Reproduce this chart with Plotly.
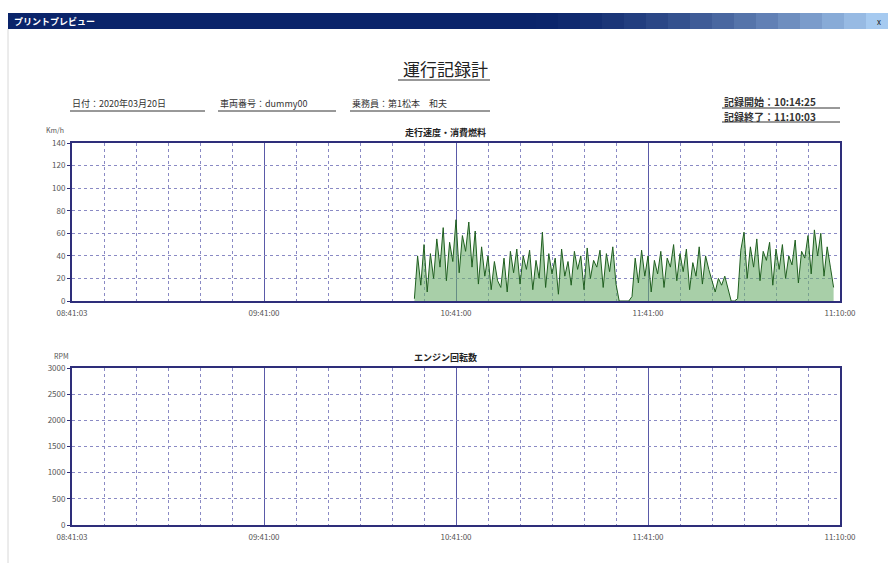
import plotly.graph_objects as go

# ---------------- data ----------------
page_title = "運行記録計"
window_title = "プリントプレビュー"
info_items = ["日付：2020年03月20日", "車両番号：dummy00", "乗務員：第1松本　和夫"]
record_start = "記録開始：10:14:25"
record_end = "記録終了：11:10:03"
chart1_title = "走行速度・消費燃料"
chart2_title = "エンジン回転数"
speed_unit = "Km/h"
rpm_unit = "RPM"
time_tick_pos = [0, 6, 12, 18, 24]
time_tick_labels = ["08:41:03", "09:41:00", "10:41:00", "11:41:00", "11:10:00"]
speed_ticks = [0, 20, 40, 60, 80, 100, 120, 140]
rpm_ticks = [0, 500, 1000, 1500, 2000, 2500, 3000]

speed_start = 10.7   # time units (10 min each) where samples start
speed_step = 0.1
speed = [
    2, 40, 14,
    50, 8, 42, 20, 55, 30, 65, 18, 52, 35,
    72, 25, 58, 44, 70, 30, 62, 15, 48, 22,
    40, 10, 35, 18, 12, 38, 8, 44, 25, 46,
    15, 40, 28, 45, 10, 36, 20, 61, 12, 42,
    24, 38, 6, 46, 22, 35, 14, 44, 28, 40,
    10, 47, 20, 36, 30, 45, 12, 42, 26, 48,
    15, 0, 0, 0, 0, 4, 38, 16, 45, 22,
    40, 8, 36, 24, 44, 12, 38, 30, 50, 18,
    42, 26, 46, 10, 34, 22, 48, 15, 40, 28,
    18, 8, 20, 14, 22, 10, 0, 0, 2, 45,
    61, 20, 48, 30, 55, 18, 44, 36, 52, 14,
    46, 28, 50, 20, 40, 32, 54, 16, 44, 38,
    58, 24, 63, 40, 60, 22, 48, 30, 12,
]
speed_time = [speed_start + i * speed_step for i in range(len(speed))]

# ---------------- layout helpers ----------------
W, H = 888, 563
def px(x): return x / W
def py(y): return 1 - y / H

FRAME = "#2e2e7a"
GRID = "#8a8ac4"
MAJOR = "#5a5aa8"
TXT = "#333333"
FONT = "Noto Sans CJK JP"

fig = go.Figure()

fig.add_trace(go.Scatter(
    x=speed_time, y=speed, mode="lines",
    line=dict(color="#1f5f1f", width=1),
    fill="tozeroy", fillcolor="rgba(110,175,110,0.6)",
    xaxis="x", yaxis="y", hoverinfo="skip", showlegend=False,
))
fig.add_trace(go.Scatter(
    x=[None], y=[None], mode="lines", xaxis="x2", yaxis="y2",
    showlegend=False, hoverinfo="skip",
))

xdom = [px(72), px(840)]
def xaxis_cfg():
    return dict(
        domain=xdom, range=[0, 24], tickmode="array",
        tickvals=time_tick_pos, ticktext=time_tick_labels,
        showgrid=True, gridcolor=MAJOR, gridwidth=1.3,
        minor=dict(dtick=1, showgrid=True, gridcolor=GRID, griddash="dot", gridwidth=1),
        showline=True, mirror=True, linecolor=FRAME, linewidth=2,
        zeroline=False, ticks="", ticklabelstandoff=3,
        tickfont=dict(size=8, color="#555555", family=FONT),
        fixedrange=True, automargin=False,
    )
def yaxis_cfg(dom, rng, ticks):
    return dict(
        domain=dom, range=rng, tickmode="array", tickvals=ticks,
        showgrid=True, gridcolor=GRID, griddash="dot", gridwidth=1,
        showline=True, mirror=True, linecolor=FRAME, linewidth=2,
        zeroline=False, ticks="outside", ticklen=3, tickcolor=FRAME,
        tickfont=dict(size=8, color="#555555", family=FONT), fixedrange=True,
        automargin=False,
    )

fig.update_layout(
    width=W, height=H, margin=dict(l=0, r=0, t=0, b=0, pad=0),
    paper_bgcolor="white", plot_bgcolor="white",
    font=dict(family=FONT, color=TXT),
    xaxis={**xaxis_cfg(), "anchor": "y"},
    yaxis={**yaxis_cfg([py(301), py(143)], [0, 140], speed_ticks), "anchor": "x"},
    xaxis2={**xaxis_cfg(), "anchor": "y2"},
    yaxis2={**yaxis_cfg([py(525), py(368)], [0, 3000], rpm_ticks), "anchor": "x2"},
)

shapes = []
# window title bar gradient
n = 40
x0, x1 = 8, 888
c0, c1 = (10, 36, 106), (166, 202, 240)
for i in range(n):
    t = i / (n - 1)
    t2 = max(0.0, (t - 0.6) / 0.4) ** 1.5
    col = tuple(int(c0[k] + (c1[k] - c0[k]) * t2) for k in range(3))
    shapes.append(dict(type="rect", xref="paper", yref="paper",
                       x0=px(x0 + (x1 - x0) * i / n), x1=px(x0 + (x1 - x0) * (i + 1) / n + 0.5),
                       y0=py(29), y1=py(13), line=dict(width=0),
                       fillcolor="rgb(%d,%d,%d)" % col, layer="below"))
# left window edge
shapes.append(dict(type="line", xref="paper", yref="paper", x0=px(8), x1=px(8),
                   y0=py(29), y1=py(563), line=dict(color="#d8d8d8", width=1)))
# underlines
def uline(xa, xb, y, w=1):
    shapes.append(dict(type="line", xref="paper", yref="paper", x0=px(xa), x1=px(xb),
                       y0=py(y), y1=py(y), line=dict(color="#333333", width=w)))
uline(398, 490, 80, 1.2)
uline(70, 205, 111)
uline(218, 336, 111)
uline(350, 490, 111)
uline(722, 840, 108)
uline(722, 840, 122)
fig.update_layout(shapes=shapes)

ann = []
def text(x, y, s, size, bold=False, color=TXT, xanchor="center"):
    ann.append(dict(xref="paper", yref="paper", x=px(x), y=py(y), text=("<b>%s</b>" % s) if bold else s,
                    showarrow=False, xanchor=xanchor, yanchor="middle",
                    font=dict(size=size, color=color, family=FONT)))
text(12, 21, window_title, 9, True, "white", "left")
text(883, 21, "x", 8, False, "#222222", "right")
text(445, 68, page_title, 17, False, "#222222")
text(70, 104, info_items[0], 9, False, TXT, "left")
text(218, 104, info_items[1], 9, False, TXT, "left")
text(350, 104, info_items[2], 9, False, TXT, "left")
text(722, 102, record_start, 10, True, TXT, "left")
text(722, 116, record_end, 10, True, TXT, "left")
text(445, 133, chart1_title, 9, True, "#222222")
text(445, 357, chart2_title, 9, True, "#222222")
text(44, 130, speed_unit, 7, False, "#555555", "left")
text(52, 356, rpm_unit, 7, False, "#555555", "left")
fig.update_layout(annotations=ann)

fig.write_html("out.html", config={"displayModeBar": False},
               post_script="document.body.style.margin='0';document.body.style.overflow='hidden';")
